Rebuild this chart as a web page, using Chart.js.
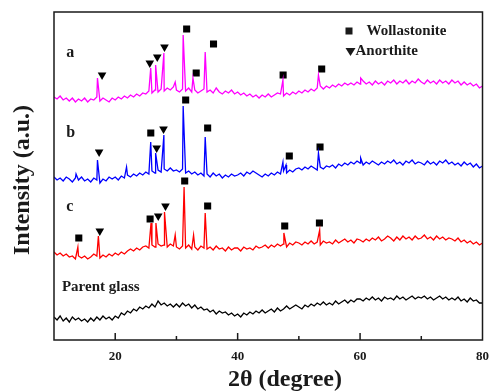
<!DOCTYPE html>
<html lang="en">
<head>
  <meta charset="UTF-8" />
  <title>XRD patterns</title>
  <script src="https://cdn.jsdelivr.net/npm/chart.js"></script>
  <style>
    body { margin: 0; background: #fff; }
    #wrap { width: 498px; height: 392px; position: relative; }
  </style>
</head>
<body>
  <div id="wrap"><canvas id="chart"></canvas></div>

  <script>
    // scan grid: 10-80 deg, 0.5 deg steps
    const angleStart = 10, angleStep = 0.5;

    // background (a.u.), one value per grid angle
    const sampleA = [
      243,241,244,240,242,239,242,238,241,239,
      242,238,241,240,243,239,242,240,238,242,
      240,243,241,244,242,245,243,246,244,247,
      246,249,247,250,248,251,249,252,250,253,
      250,248,251,249,252,248,250,247,249,251,
      248,250,247,252,248,246,249,247,250,246,
      248,245,247,244,246,243,245,242,245,243,
      246,243,245,247,246,244,247,245,248,246,
      249,247,250,248,251,249,252,254,251,254,
      252,255,253,256,254,257,255,257,255,258,
      256,259,256,258,255,259,256,258,255,259,
      257,260,256,259,257,260,256,259,257,261,
      258,256,260,257,259,256,260,257,259,256,
      260,257,259,255,258,255,257,254,256,252,
      254
    ];
    const sampleB = [
      163,160,162,159,163,161,158,162,160,163,
      159,161,158,162,160,157,161,159,163,161,
      163,160,164,162,165,163,166,164,167,165,
      168,166,169,167,170,168,171,169,172,169,
      170,168,171,167,169,166,168,165,167,164,
      166,163,167,164,166,162,165,163,166,164,
      165,167,164,168,166,169,167,165,163,166,
      164,167,165,168,166,169,167,170,168,171,
      172,170,173,171,174,172,170,173,171,174,
      173,175,172,176,174,177,175,178,176,179,
      177,175,178,176,179,177,175,178,176,179,
      177,180,176,178,175,179,177,180,176,178,
      177,175,179,176,178,175,179,177,180,176,
      178,175,177,174,178,175,177,173,176,172,
      174
    ];
    const sampleC = [
      88,85,87,84,86,83,84,81,84,82,
      84,81,83,86,84,82,85,83,86,84,
      87,85,88,86,89,91,89,92,90,93,
      94,92,95,93,96,94,95,93,96,94,
      93,91,94,92,95,91,93,90,94,92,
      91,93,90,94,91,92,89,93,90,92,
      92,89,93,91,92,90,94,92,93,95,
      92,95,93,96,94,96,93,97,95,98,
      97,95,98,96,99,96,98,95,99,97,
      98,96,100,97,99,101,98,100,97,101,
      100,98,101,99,102,100,103,99,101,104,
      102,99,103,100,104,101,103,100,104,101,
      102,105,101,103,100,104,101,103,100,102,
      101,99,102,98,100,97,99,96,98,95,
      97
    ];
    const sampleGlass = [
      23,20,24,19,22,18,23,20,22,19,
      21,18,22,19,23,20,24,21,23,20,
      24,22,27,25,29,27,31,29,33,31,
      34,32,36,33,39,35,37,34,36,33,
      36,33,37,34,36,32,35,31,33,30,
      31,28,30,26,29,27,28,25,27,24,
      26,23,27,25,28,26,29,27,30,27,
      29,31,28,32,29,31,34,31,33,35,
      33,31,35,33,36,34,37,35,38,35,
      37,35,39,36,38,40,37,40,38,41,
      41,39,42,40,43,40,42,39,43,41,
      42,40,44,41,43,40,42,44,41,43,
      42,44,41,43,40,42,44,41,43,40,
      42,40,43,39,41,38,42,39,40,37,
      37
    ];

    // diffraction peaks [2theta, intensity]
    const peaksA = [[17.1,262],[25.8,272],[26.6,275],[27.95,287],[29.8,258],[31.1,305],
                    [32.7,262],[34.7,288],[47.4,260],[53.2,265],[60.1,262]];
    const peaksB = [[13.6,166],[17.1,180],[21.85,173],[25.8,198],[26.6,187],[27.95,205],
                    [31.1,234],[34.7,203],[47.4,178],[47.9,175],[53.2,187],[60.1,182]];
    const peaksC = [[13.9,93],[17.25,104],[25.85,117],[26.65,117],[28.05,128],[29.8,105],
                    [31.25,153],[32.8,105],[34.7,127],[47.55,107],[53.4,110]];

    // phase markers [2theta, intensity]
    const wollastonite = [[31.67,311],[33.23,267],[36.06,296],[47.43,265],[53.73,271],
                          [25.81,207],[31.51,240],[35.1,212],[48.44,184],[53.46,193],
                          [14.05,102],[25.7,121],[31.35,159],[35.1,134],[47.69,114],[53.36,117]];
    const anorthite = [[17.85,265],[25.65,277],[26.87,283],[28.05,293],
                       [17.37,188],[26.77,192],[27.89,211],
                       [17.48,109],[27.03,124],[28.21,134]];

    const serif = "'Liberation Serif', 'Times New Roman', serif";
    Chart.defaults.font.family = serif;

    function trace(samples, peaks) {
      const pts = samples.map((v, i) => ({ x: angleStart + i * angleStep, y: v }));
      peaks.forEach(([x, y]) => pts.push({ x, y }));
      return pts.sort((p, q) => p.x - q.x);
    }
    const toPts = list => list.map(([x, y]) => ({ x, y }));

    function line(data, color) {
      return { type: 'line', data, borderColor: color, borderWidth: 1.3,
               pointRadius: 0, tension: 0, fill: false };
    }

    // frame, inward ticks, labels, legend
    const decor = {
      id: 'decor',
      afterDatasetsDraw(chart) {
        const { ctx, chartArea: a, scales: { x, y } } = chart;
        ctx.save();
        ctx.strokeStyle = '#1a1a1a';
        ctx.lineWidth = 1.5;
        x.ticks.forEach(t => {
          if (t.value <= x.min || t.value >= x.max) return;
          const px = x.getPixelForValue(t.value);
          const len = t.value % 20 === 0 ? 7 : 4;
          ctx.beginPath();
          ctx.moveTo(px, a.bottom);
          ctx.lineTo(px, a.bottom - len);
          ctx.stroke();
        });
        ctx.strokeRect(a.left, a.top, a.right - a.left, a.bottom - a.top);

        ctx.fillStyle = '#1a1a1a';
        ctx.textBaseline = 'middle';
        ctx.textAlign = 'left';
        ctx.font = 'bold 16px ' + serif;
        ctx.fillText('a', x.getPixelForValue(12.0), y.getPixelForValue(287));
        ctx.fillText('b', x.getPixelForValue(12.0), y.getPixelForValue(207));
        ctx.fillText('c', x.getPixelForValue(12.0), y.getPixelForValue(133));
        ctx.font = 'bold 15px ' + serif;
        ctx.fillText('Parent glass', x.getPixelForValue(11.3), y.getPixelForValue(53));

        // legend
        const lx = a.right, ly = a.top;
        ctx.fillRect(lx - 137, ly + 15.5, 7, 7);
        ctx.fillText('Wollastonite', lx - 116, ly + 19);
        ctx.beginPath();
        ctx.moveTo(lx - 137, ly + 36);
        ctx.lineTo(lx - 127, ly + 36);
        ctx.lineTo(lx - 132, ly + 44);
        ctx.closePath();
        ctx.fill();
        ctx.fillText('Anorthite', lx - 127, ly + 39);

        // axis titles
        ctx.font = 'bold 24px ' + serif;
        ctx.textAlign = 'center';
        ctx.fillText('2\u03b8 (degree)', 285, 380);
        ctx.save();
        ctx.translate(23, 180);
        ctx.rotate(-Math.PI / 2);
        ctx.fillText('Intensity (a.u.)', 0, 0);
        ctx.restore();
        ctx.restore();
      }
    };

    new Chart(document.getElementById('chart'), {
      data: {
        datasets: [
          line(trace(sampleA, peaksA), '#ff00ff'),
          line(trace(sampleB, peaksB), '#0000ff'),
          line(trace(sampleC, peaksC), '#ff0000'),
          line(trace(sampleGlass, []), '#000000'),
          { type: 'scatter', data: toPts(wollastonite), pointStyle: 'rect', pointRadius: 5,
            backgroundColor: '#000', borderWidth: 0 },
          { type: 'scatter', data: toPts(anorthite), pointStyle: 'triangle', rotation: 180,
            pointRadius: 5, backgroundColor: '#000', borderWidth: 0 }
        ]
      },
      options: {
        responsive: true,
        maintainAspectRatio: false,
        animation: false,
        layout: { padding: { left: 54, right: 7, top: 12, bottom: 0 } },
        plugins: { legend: { display: false }, tooltip: { enabled: false } },
        scales: {
          x: {
            type: 'linear', min: 10, max: 80,
            grid: { display: false, drawTicks: false },
            border: { display: false },
            ticks: {
              stepSize: 10, padding: 9, color: '#1a1a1a',
              font: { size: 13, weight: 'bold' },
              callback: v => (v % 20 === 0 && v > 10) ? v : ''
            },
            afterFit: s => { s.height = 52; }
          },
          y: { display: false, min: 0, max: 328 }
        }
      },
      plugins: [decor]
    });
  </script>
</body>
</html>
